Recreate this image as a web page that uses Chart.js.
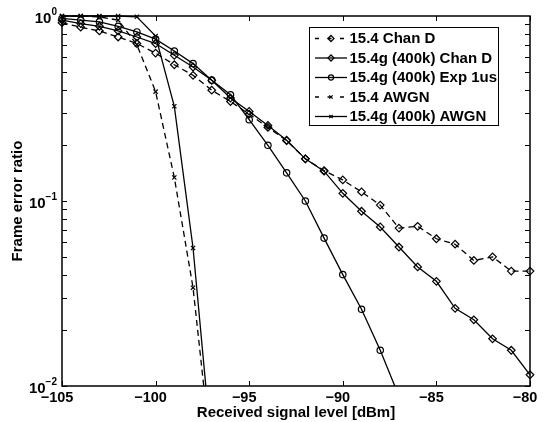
<!DOCTYPE html>
<html>
<head>
<meta charset="utf-8">
<script src="https://cdn.jsdelivr.net/npm/chart.js@4.4.0/dist/chart.umd.min.js"></script>
<style>
  html, body { margin: 0; padding: 0; background: #fff; }
</style>
</head>
<body>
<canvas id="ferChart" width="545" height="422"></canvas>
<script>
// Received signal level [dBm], one point per dB
const levels = [-105, -104, -103, -102, -101, -100, -99, -98, -97, -96, -95, -94, -93,
                -92, -91, -90, -89, -88, -87, -86, -85, -84, -83, -82, -81, -80];

// Frame error ratio per curve (curves that fall off the axis stop early)
const chanD154 = [0.92, 0.87, 0.83, 0.77, 0.71, 0.63, 0.545, 0.478, 0.397, 0.345, 0.295, 0.25, 0.212,
                  0.169, 0.146, 0.13, 0.112, 0.095, 0.0714, 0.073, 0.0625, 0.0584, 0.0477, 0.0499, 0.0418, 0.0418];
const chanD154g = [0.95, 0.91, 0.88, 0.83, 0.77, 0.71, 0.613, 0.53, 0.449, 0.36, 0.305, 0.256, 0.213,
                   0.169, 0.145, 0.11, 0.088, 0.0724, 0.0564, 0.044, 0.0368, 0.0263, 0.0228, 0.018, 0.0156, 0.0115];
const exp1us154g = [0.97, 0.95, 0.93, 0.88, 0.82, 0.75, 0.647, 0.553, 0.45, 0.375, 0.275, 0.2, 0.142,
                    0.1, 0.063, 0.04, 0.026, 0.0156, 0.0088];
const awgn154 = [1, 1, 0.99, 0.95, 0.7, 0.39, 0.134, 0.034, 0.004];
const awgn154g = [1, 1, 1, 1, 0.99, 0.78, 0.325, 0.0557, 0.0045];

const seriesNames = ['15.4 Chan D', '15.4g (400k) Chan D', '15.4g (400k) Exp 1us', '15.4 AWGN', '15.4g (400k) AWGN'];

const xTicks = [-105, -100, -95, -90, -85, -80];
const yTicks = [1, 0.1, 0.01];
const yTickExps = ['0', '\u22121', '\u22122'];

const FONT = '"Liberation Sans", Arial, Helvetica, sans-serif';

function pts(vals) {
    return vals.map((v, i) => ({ x: levels[i], y: v }));
}

function series(label, vals, dashed, marker, radius) {
    return {
        label: label,
        data: pts(vals),
        borderColor: '#000',
        borderWidth: 1.3,
        borderDash: dashed ? [6, 4] : [],
        pointStyle: marker,
        pointRadius: radius,
        pointBorderWidth: 1.2,
        pointBorderColor: '#000',
        pointBackgroundColor: 'rgba(0,0,0,0)',
        fill: false,
        tension: 0,
        clip: { left: 8, top: 8, right: 8, bottom: 0 }
    };
}

// axes box, inward ticks, labels and titles drawn MATLAB style
const matlabAxes = {
    id: 'matlabAxes',
    afterDatasetsDraw(chart) {
        const { ctx, chartArea: a, scales: { x, y } } = chart;
        ctx.save();
        ctx.strokeStyle = '#000';
        ctx.lineWidth = 1;
        const tl = 5;
        ctx.beginPath();
        xTicks.forEach(v => {
            const px = Math.round(x.getPixelForValue(v)) + 0.5;
            ctx.moveTo(px, a.bottom); ctx.lineTo(px, a.bottom - tl);
            ctx.moveTo(px, a.top); ctx.lineTo(px, a.top + tl);
        });
        [0.01, 0.1].forEach(d => {
            for (let m = 1; m <= 9; m++) {
                const py = Math.round(y.getPixelForValue(m * d)) + 0.5;
                ctx.moveTo(a.left, py); ctx.lineTo(a.left + tl, py);
                ctx.moveTo(a.right, py); ctx.lineTo(a.right - tl, py);
            }
        });
        ctx.stroke();

        ctx.lineWidth = 1.5;
        ctx.strokeRect(a.left, a.top, a.right - a.left, a.bottom - a.top);

        ctx.fillStyle = '#000';
        ctx.textBaseline = 'middle';
        ctx.textAlign = 'center';
        ctx.font = 'bold 14.5px ' + FONT;
        xTicks.forEach(v => {
            const label = (v < 0 ? '\u2212' : '') + Math.abs(v);
            ctx.fillText(label, x.getPixelForValue(v) - 5, a.bottom + 12);
        });

        yTicks.forEach((v, i) => {
            const py = y.getPixelForValue(v);
            ctx.font = 'bold 10px ' + FONT;
            const ew = ctx.measureText(yTickExps[i]).width;
            ctx.textAlign = 'right';
            ctx.fillText(yTickExps[i], 57, py - 4);
            ctx.font = 'bold 15px ' + FONT;
            ctx.fillText('10', 57 - ew, py + 3);
        });

        ctx.textAlign = 'center';
        ctx.font = 'bold 15px ' + FONT;
        ctx.fillText('Received signal level [dBm]', (a.left + a.right) / 2, 413);
        ctx.save();
        ctx.translate(18, (a.top + a.bottom) / 2);
        ctx.rotate(-Math.PI / 2);
        ctx.fillText('Frame error ratio', 0, 0);
        ctx.restore();

        // legend box
        const bx = 309, by = 27, bw = 189, bh = 98;
        ctx.fillStyle = '#fff';
        ctx.fillRect(bx, by, bw, bh);
        ctx.lineWidth = 1;
        ctx.strokeStyle = '#000';
        ctx.strokeRect(bx + 0.5, by + 0.5, bw, bh);
        chart.data.datasets.forEach((ds, i) => {
            const ly = 38.5 + i * 19.5;
            ctx.save();
            ctx.lineWidth = ds.borderWidth;
            ctx.setLineDash(ds.borderDash.length ? [4, 8.5] : []);
            ctx.beginPath();
            ctx.moveTo(315, ly); ctx.lineTo(347, ly);
            ctx.stroke();
            ctx.restore();
            ctx.strokeStyle = '#000';
            ctx.fillStyle = 'rgba(0,0,0,0)';
            ctx.lineWidth = ds.pointBorderWidth;
            Chart.helpers.drawPoint(ctx, { pointStyle: ds.pointStyle, radius: ds.pointRadius * 0.8, borderWidth: ds.pointBorderWidth, rotation: 0 }, 331, ly);
            ctx.fillStyle = '#000';
            ctx.textAlign = 'left';
            ctx.font = 'bold 15px ' + FONT;
            ctx.fillText(ds.label, 349.5, ly + 0.5);
        });
        ctx.restore();
    }
};

const ctxFer = document.getElementById('ferChart').getContext('2d');
const ferChart = new Chart(ctxFer, {
    type: 'line',
    data: {
        datasets: [
            series(seriesNames[0], chanD154, true, 'rectRot', 3.8),
            series(seriesNames[1], chanD154g, false, 'rectRot', 3.8),
            series(seriesNames[2], exp1us154g, false, 'circle', 3.2),
            series(seriesNames[3], awgn154, true, 'crossRot', 3),
            series(seriesNames[4], awgn154g, false, 'crossRot', 3)
        ]
    },
    options: {
        responsive: false,
        animation: false,
        devicePixelRatio: 1,
        layout: { padding: { left: 62, top: 16, right: 15, bottom: 36 } },
        plugins: { legend: { display: false }, tooltip: { enabled: false } },
        scales: {
            x: { type: 'linear', min: -105, max: -80, display: false },
            y: { type: 'logarithmic', min: 0.01, max: 1, display: false }
        }
    },
    plugins: [matlabAxes]
});
</script>
</body>
</html>
